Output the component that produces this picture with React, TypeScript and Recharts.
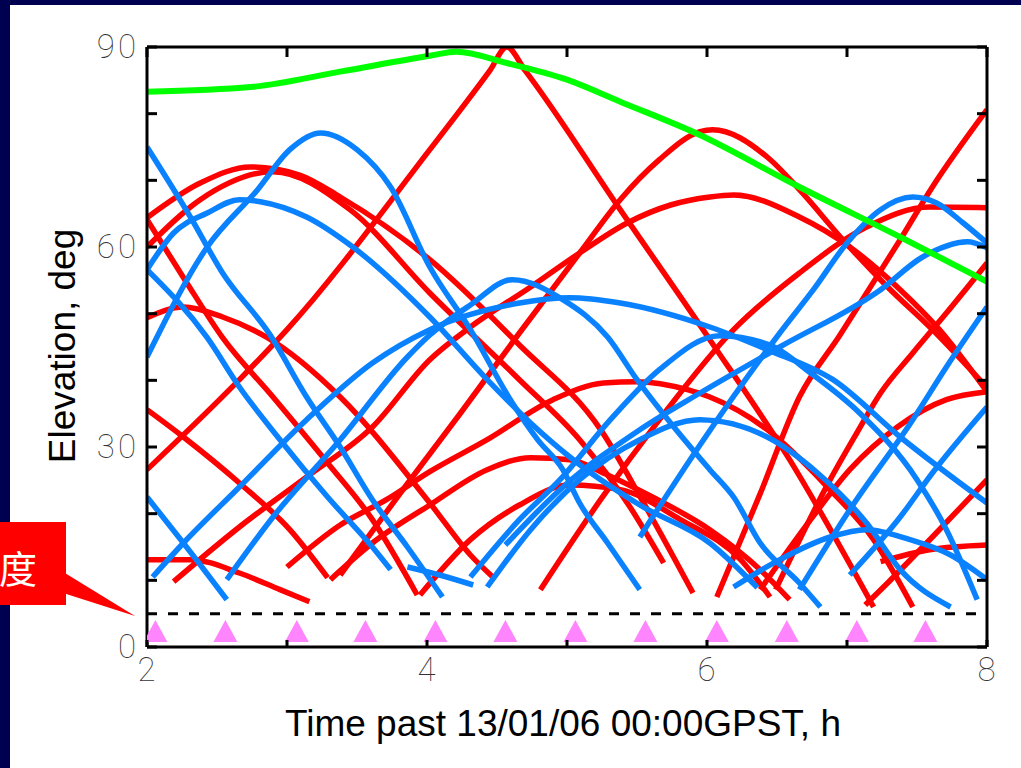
import { ComposedChart, Line, XAxis, YAxis, ReferenceLine } from "recharts";

type Pt = [number, number];

const xTicks = [2, 3, 4, 5, 6, 7, 8];
const yTicks = [0, 10, 20, 30, 40, 50, 60, 70, 80, 90];
const xLabels = [2, 4, 6, 8];
const yLabels = [0, 30, 60, 90];
const maskAngle = 5;
const markerElev = 2.4;
const markerTimes = [2.06, 2.56, 3.07, 3.56, 4.06, 4.56, 5.06, 5.56, 6.07, 6.57, 7.07, 7.56];

// green track (near zenith)
const green: Pt[] = [[2.0, 83.3], [2.74, 84.0], [3.38, 86.3], [4.02, 88.7], [4.21, 89.3], [4.57, 87.6], [5.0, 85.1], [5.38, 81.8], [5.95, 76.8], [6.66, 69.0], [7.38, 61.5], [8.0, 54.8]];

// red passes
const red1: Pt[] = [[2.0, 26.6], [2.66, 40.1], [3.0, 47.6], [4.02, 74.6], [4.45, 86.5], [4.57, 90.0], [4.7, 86.5], [5.38, 65.6], [6.02, 46.1], [6.59, 28.1], [7.19, 6.0]];
const red2: Pt[] = [[2.0, 64.4], [2.38, 69.6], [2.74, 72.0], [3.09, 70.8], [3.38, 67.5], [4.02, 58.1], [4.66, 45.3], [5.24, 32.6], [5.55, 21.5], [5.9, 8.1]];
const red3: Pt[] = [[2.0, 60.0], [2.38, 67.1], [2.9, 71.3], [3.45, 65.6], [4.02, 53.1], [4.66, 40.1], [5.09, 31.1], [5.45, 21.0], [5.69, 12.6]];
const red4: Pt[] = [[3.38, 10.8], [3.81, 23.1], [4.24, 35.1], [4.66, 47.1], [5.09, 59.1], [5.38, 67.1], [5.66, 73.1], [5.95, 77.3], [6.04, 77.6], [6.43, 73.5], [6.66, 68.6], [6.97, 61.1], [7.29, 54.0], [7.61, 47.6], [8.0, 38.9]];
const red5: Pt[] = [[2.19, 9.8], [2.66, 18.0], [3.14, 25.5], [3.61, 33.0], [4.02, 43.1], [4.31, 48.0], [4.74, 54.0], [5.09, 59.1], [5.43, 63.6], [5.74, 66.3], [6.02, 67.5], [6.19, 67.8], [6.66, 64.5], [7.02, 60.0], [7.38, 53.6], [7.66, 47.6], [8.0, 38.3]];
const red6: Pt[] = [[2.0, 64.1], [2.27, 55.1], [2.54, 46.4], [2.9, 37.5], [3.29, 27.6], [3.61, 19.1], [3.93, 7.8]];
const red7: Pt[] = [[2.0, 49.4], [2.26, 51.0], [2.54, 49.5], [2.86, 46.4], [3.38, 37.5], [4.02, 21.6], [4.31, 13.8], [4.47, 10.5]];
const red8: Pt[] = [[2.0, 35.6], [2.26, 31.5], [2.66, 24.6], [3.02, 17.6], [3.29, 10.4]];
const red9: Pt[] = [[2.0, 13.1], [2.31, 13.1], [2.66, 11.1], [2.95, 8.6], [3.16, 6.8]];
const red10: Pt[] = [[3.0, 12.0], [3.38, 18.3], [3.71, 22.1], [4.02, 26.3], [4.43, 31.1], [4.9, 37.1], [5.26, 39.6], [5.5, 39.8], [5.86, 38.6], [6.02, 37.5], [6.43, 32.6], [6.86, 24.0], [7.19, 16.1], [7.47, 6.0]];
const red11: Pt[] = [[3.31, 10.1], [3.61, 15.6], [4.02, 21.3], [4.43, 26.6], [4.74, 28.4], [5.02, 28.1], [5.29, 25.8], [5.61, 22.5], [6.02, 17.6], [6.38, 11.6], [6.59, 7.1]];
const red12: Pt[] = [[3.95, 7.8], [4.31, 16.1], [4.66, 21.3], [5.02, 24.3], [5.38, 23.6], [5.81, 19.1], [6.24, 13.1], [6.45, 7.5]];
const red13: Pt[] = [[6.07, 7.5], [6.38, 23.0], [6.66, 37.5], [6.95, 46.8], [7.14, 53.1], [7.38, 61.1], [7.61, 69.0], [8.0, 80.6]];
const red14: Pt[] = [[6.38, 8.6], [6.74, 19.1], [7.02, 26.6], [7.36, 33.0], [7.71, 37.1], [8.0, 38.3]];
const red15: Pt[] = [[4.81, 8.6], [5.24, 22.1], [5.66, 34.1], [6.19, 47.6], [6.66, 56.1], [7.14, 63.0], [7.59, 66.0], [8.0, 65.9]];
const red16: Pt[] = [[6.49, 8.6], [6.88, 25.1], [7.07, 32.1], [7.24, 38.1], [7.47, 44.1], [7.71, 50.1], [8.0, 57.6]];
const red17: Pt[] = [[7.13, 6.3], [7.29, 9.6], [7.61, 16.5], [8.0, 25.1]];
const red18: Pt[] = [[7.24, 12.8], [7.59, 14.6], [8.0, 15.3]];

// blue passes
const blue1: Pt[] = [[2.0, 75.0], [2.31, 64.5], [2.54, 56.1], [2.88, 46.8], [3.14, 37.5], [3.38, 30.0], [3.61, 22.1], [3.86, 15.0], [4.11, 7.5]];
const blue2: Pt[] = [[2.0, 43.5], [2.43, 60.0], [2.79, 68.6], [3.02, 74.6], [3.24, 77.1], [3.5, 74.6], [3.74, 69.0], [4.02, 57.0], [4.31, 47.6], [4.61, 36.6], [4.79, 31.1], [4.97, 26.6], [5.09, 21.6], [5.29, 15.6], [5.52, 8.6]];
const blue3: Pt[] = [[2.0, 56.6], [2.19, 62.1], [2.43, 65.1], [2.66, 67.1], [2.81, 66.8], [3.14, 64.5], [3.47, 60.0], [4.02, 49.5], [4.43, 40.1], [4.74, 33.6], [5.02, 28.5], [5.52, 21.3], [6.02, 15.6], [6.36, 8.9]];
const blue4: Pt[] = [[2.0, 56.6], [2.43, 46.4], [2.66, 39.0], [2.95, 31.1], [3.29, 22.5], [3.61, 15.0], [3.74, 11.6]];
const blue5: Pt[] = [[2.0, 22.5], [2.26, 15.6], [2.57, 7.1]];
const blue6: Pt[] = [[2.57, 10.1], [2.9, 19.5], [3.38, 31.1], [3.86, 43.5], [4.02, 46.8], [4.31, 51.3], [4.61, 55.1], [4.97, 52.1], [5.29, 46.5], [5.5, 40.1], [5.74, 33.6], [6.02, 26.6], [6.19, 22.5], [6.38, 15.6], [6.66, 9.6], [6.81, 6.0]];
const blue7: Pt[] = [[2.04, 10.5], [2.26, 15.6], [2.66, 24.0], [3.14, 34.1], [3.61, 42.6], [4.02, 47.6], [4.66, 51.6], [5.02, 52.4], [5.38, 51.6], [6.02, 48.0], [6.43, 44.6], [6.9, 40.1], [7.38, 31.5], [8.0, 21.6]];
const blue8: Pt[] = [[3.86, 12.0], [4.09, 10.8], [4.33, 9.3]];
const blue9: Pt[] = [[4.43, 9.0], [4.74, 17.6], [5.09, 25.1], [5.52, 31.1], [5.95, 34.1], [6.43, 31.5], [6.79, 26.1], [7.14, 18.6], [7.38, 11.6], [7.74, 6.0]];
const blue10: Pt[] = [[4.31, 10.5], [4.66, 19.1], [4.95, 25.1], [5.31, 34.1], [5.66, 41.6], [6.09, 46.7], [6.45, 45.3], [6.74, 41.1], [7.09, 35.1], [7.5, 25.1], [7.71, 17.6], [7.93, 7.1]];
const blue11: Pt[] = [[5.52, 16.5], [5.95, 30.3], [6.52, 47.1], [6.76, 53.6], [7.0, 60.6], [7.24, 65.6], [7.47, 67.5], [7.64, 66.6], [7.83, 63.6], [8.0, 60.6]];
const blue12: Pt[] = [[4.56, 15.3], [4.95, 23.6], [5.52, 32.6], [5.95, 38.1], [6.52, 45.0], [7.24, 53.6], [7.54, 58.5], [7.86, 60.8], [8.0, 59.9]];
const blue13: Pt[] = [[6.66, 8.6], [7.02, 20.6], [7.47, 34.1], [7.71, 42.0], [8.0, 51.0]];
const blue14: Pt[] = [[7.02, 10.8], [7.38, 19.5], [7.61, 26.1], [8.0, 36.0]];
const blue15: Pt[] = [[6.19, 9.0], [6.52, 13.1], [6.88, 16.5], [7.14, 17.6], [7.45, 16.1], [7.74, 13.8], [8.0, 10.1]];

const reds = [red1, red2, red3, red4, red5, red6, red7, red8, red9, red10, red11, red12, red13, red14, red15, red16, red17, red18];
const blues = [blue1, blue2, blue3, blue4, blue5, blue6, blue7, blue8, blue9, blue10, blue11, blue12, blue13, blue14, blue15];

const RED = "#ff0000";
const BLUE = "#0a82ff";
const GREEN = "#00ff00";
const NAVY = "#000050";

const toPts = (t: Pt[]) => t.map(([x, y]) => ({ x, y }));
const markers = markerTimes.map((x) => ({ x, y: markerElev }));

const tickFont = {
  fontFamily: "Roboto, 'DejaVu Sans', sans-serif",
  fontWeight: 100,
  fontSize: 33,
  fill: "#333",
  letterSpacing: 3,
};

const BottomTick = (p: any) => (
  <g>
    <line x1={p.x} y1={p.y} x2={p.x} y2={p.y - 7} stroke="#000" strokeWidth={3} />
    {xLabels.includes(p.payload.value) && (
      <text x={p.x + 1} y={p.y + 34} textAnchor="middle" {...tickFont}>
        {p.payload.value}
      </text>
    )}
  </g>
);
const TopTick = (p: any) => (
  <line x1={p.x} y1={p.y} x2={p.x} y2={p.y + 10} stroke="#000" strokeWidth={3} />
);
const LeftTick = (p: any) => (
  <g>
    <line x1={p.x} y1={p.y} x2={p.x + 10} y2={p.y} stroke="#000" strokeWidth={3} />
    {yLabels.includes(p.payload.value) && (
      <text x={p.x - 8} y={p.y + 11} textAnchor="end" {...tickFont}>
        {p.payload.value}
      </text>
    )}
  </g>
);
const RightTick = (p: any) => (
  <line x1={p.x} y1={p.y} x2={p.x - 10} y2={p.y} stroke="#000" strokeWidth={3} />
);
const Triangle = (p: any) => (
  <polygon
    key={p.index}
    points={`${p.cx},${p.cy - 11} ${p.cx - 12},${p.cy + 11} ${p.cx + 12},${p.cy + 11}`}
    fill="#ff85ff"
  />
);

const axisLine = { stroke: "#000", strokeWidth: 3 };

export default function App() {
  return (
    <div style={{ position: "absolute", left: 0, top: 0, width: 1021, height: 768, background: NAVY, overflow: "hidden" }}>
      <div style={{ position: "absolute", left: 10, top: 5, width: 1011, height: 763, background: "#fff" }} />
      <div style={{ position: "absolute", left: 0, top: 0 }}>
        <ComposedChart width={1021} height={768} margin={{ top: 27, right: 14, bottom: 91, left: 87 }}>
          <XAxis
            xAxisId="b"
            type="number"
            dataKey="x"
            domain={[2, 8]}
            ticks={xTicks}
            interval={0}
            allowDataOverflow
            height={30}
            tickSize={0}
            tickMargin={0}
            tickLine={false}
            axisLine={axisLine}
            tick={BottomTick}
          />
          <XAxis
            xAxisId="t"
            orientation="top"
            type="number"
            dataKey="x"
            domain={[2, 8]}
            ticks={xTicks}
            interval={0}
            allowDataOverflow
            height={20}
            tickSize={0}
            tickMargin={0}
            tickLine={false}
            axisLine={axisLine}
            tick={TopTick}
          />
          <YAxis
            yAxisId="l"
            type="number"
            dataKey="y"
            domain={[0, 90]}
            ticks={yTicks}
            interval={0}
            allowDataOverflow
            width={60}
            tickSize={0}
            tickMargin={0}
            tickLine={false}
            axisLine={axisLine}
            tick={LeftTick}
          />
          <YAxis
            yAxisId="r"
            orientation="right"
            type="number"
            dataKey="y"
            domain={[0, 90]}
            ticks={yTicks}
            interval={0}
            allowDataOverflow
            width={20}
            tickSize={0}
            tickMargin={0}
            tickLine={false}
            axisLine={axisLine}
            tick={RightTick}
          />
          {reds.map((t, i) => (
            <Line
              key={"r" + i}
              xAxisId="b"
              yAxisId="l"
              data={toPts(t)}
              dataKey="y"
              type="monotone"
              stroke={RED}
              strokeWidth={5.5}
              dot={false}
              activeDot={false}
              isAnimationActive={false}
            />
          ))}
          {blues.map((t, i) => (
            <Line
              key={"b" + i}
              xAxisId="b"
              yAxisId="l"
              data={toPts(t)}
              dataKey="y"
              type="monotone"
              stroke={BLUE}
              strokeWidth={5.5}
              dot={false}
              activeDot={false}
              isAnimationActive={false}
            />
          ))}
          <Line
            xAxisId="b"
            yAxisId="l"
            data={toPts(green)}
            dataKey="y"
            type="monotone"
            stroke={GREEN}
            strokeWidth={6}
            dot={false}
            activeDot={false}
            isAnimationActive={false}
          />
          <ReferenceLine xAxisId="b" yAxisId="l" y={maskAngle} stroke="#000" strokeWidth={3} strokeDasharray="10 11" />
          <Line
            xAxisId="b"
            yAxisId="l"
            data={markers}
            dataKey="y"
            stroke="none"
            dot={Triangle}
            activeDot={false}
            isAnimationActive={false}
          />
        </ComposedChart>
      </div>
      <svg width={1021} height={768} style={{ position: "absolute", left: 0, top: 0, pointerEvents: "none" }}>
        <text x={563} y={736} textAnchor="middle" fontFamily="'Liberation Sans', Arial, sans-serif" fontSize={37} fill="#000">
          Time past 13/01/06 00:00GPST, h
        </text>
        <text
          x={75}
          y={346}
          transform="rotate(-90, 75, 346)"
          textAnchor="middle"
          fontFamily="'Liberation Sans', Arial, sans-serif"
          fontSize={37}
          fill="#000"
        >
          Elevation, deg
        </text>
        <rect x={-40} y={522} width={106} height={83} fill="#ff0000" />
        <polygon points="60,570 60,592 135,616" fill="#ff0000" />
        <text x={18} y={583} textAnchor="middle" fontFamily="'Noto Sans CJK SC', sans-serif" fontSize={38} fill="#fff">
          度
        </text>
      </svg>
    </div>
  );
}
